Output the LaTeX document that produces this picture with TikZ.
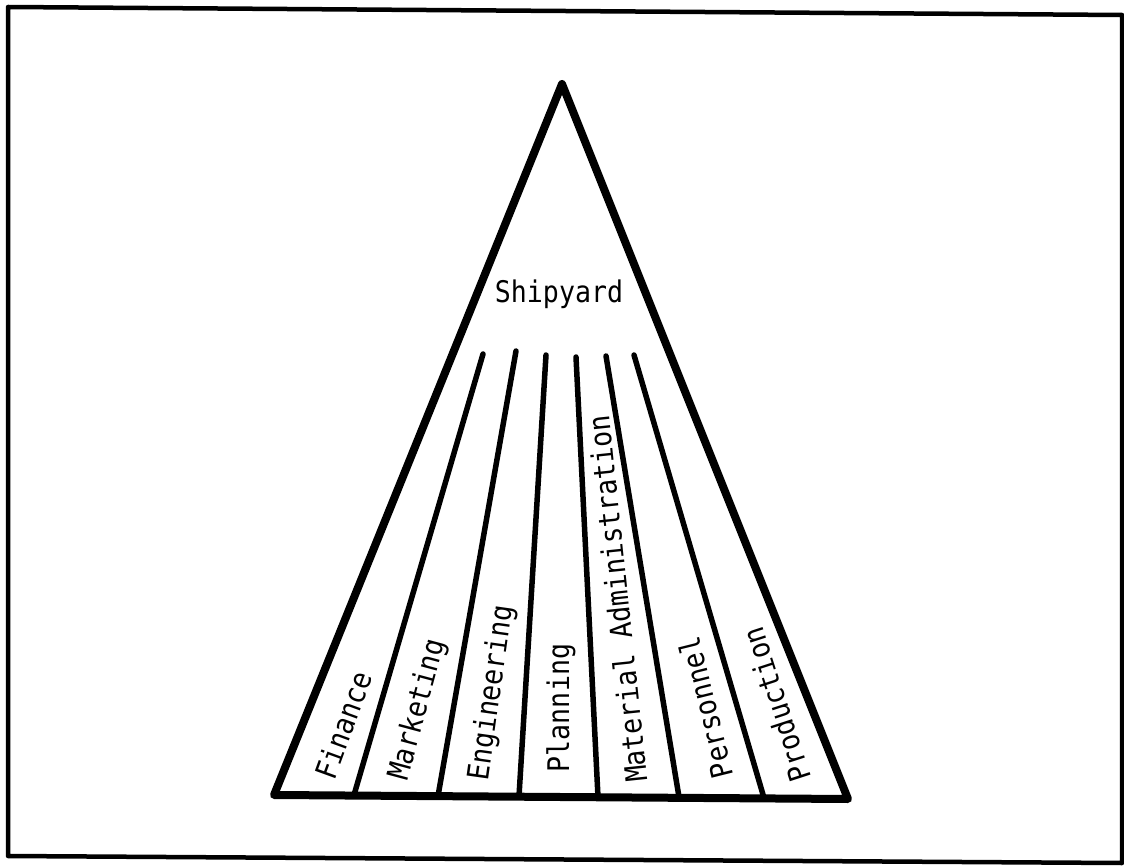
\documentclass[tikz,border=0pt]{standalone}
\usepackage{fontspec}
\newfontfamily\typefont{DejaVu Sans Mono}
\tikzset{
  frameline/.style={line width=4.5pt, line join=round},
  triline/.style={line width=8pt, line join=round, line cap=round},
  divline/.style={line width=5.5pt, line cap=round},
  lbl/.style={inner sep=0pt, font=\typefont\fontsize{26.6}{30}\selectfont},
}
\newcommand{\tall}[1]{\scalebox{1}[1.12]{#1}}
\begin{document}
\begin{tikzpicture}[x=1pt,y=-1pt]
\useasboundingbox (0,0) rectangle (1124,866);
% outer frame
\draw[frameline] (8,7) -- (1122,15) -- (1122,863) -- (8,856) -- cycle;
% triangle
\coordinate (apex) at (562,84);
\coordinate (bl) at (274,795);
\coordinate (br) at (848,799);
\draw[triline] (apex) -- (bl) -- (br) -- cycle;
% dividers
\coordinate (t1) at (483,354); \coordinate (b1) at (354,795);
\coordinate (t2) at (516,351); \coordinate (b2) at (438,796);
\coordinate (t3) at (546,355); \coordinate (b3) at (519,796);
\coordinate (t4) at (576,357); \coordinate (b4) at (598,797);
\coordinate (t5) at (606,356); \coordinate (b5) at (679,797);
\coordinate (t6) at (634,355); \coordinate (b6) at (764,798);
\foreach \i in {1,...,6} \draw[divline] (t\i) -- (b\i);
% labels
\node[lbl, anchor=base] (ship) at (559,303) {\tall{Shipyard}};
\node[lbl, rotate=70] (fin) at (343,725) {\tall{Finance}};
\node[lbl, rotate=75] (mkt) at (418,710) {\tall{Marketing}};
\node[lbl, rotate=82] (eng) at (492,693) {\tall{Engineering}};
\node[lbl, rotate=90] (pln) at (561,708) {\tall{Planning}};
\node[lbl, rotate=96] (mat) at (617,599) {\tall{Material Administration}};
\node[lbl, rotate=104] (per) at (705,708) {\tall{Personnel}};
\node[lbl, rotate=108] (prd) at (776,705) {\tall{Production}};
\end{tikzpicture}
\end{document}
